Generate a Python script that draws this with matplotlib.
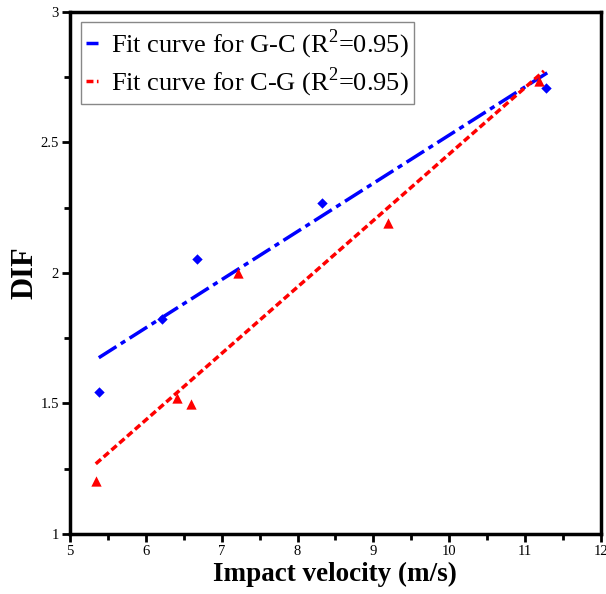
import numpy as np
import matplotlib
matplotlib.use("Agg")
import matplotlib.pyplot as plt
from matplotlib.ticker import MultipleLocator

plt.rcParams['font.family'] = ['Liberation Serif', 'DejaVu Serif']
plt.rcParams['mathtext.fontset'] = 'custom'
plt.rcParams['mathtext.rm'] = 'Liberation Serif'

gc_x = [5.38, 6.21, 6.67, 8.32, 11.28]
gc_y = [1.544, 1.824, 2.054, 2.268, 2.709]
cg_x = [5.34, 6.41, 6.59, 7.21, 9.19, 11.18]
cg_y = [1.203, 1.520, 1.498, 2.000, 2.190, 2.736]

labels = ["Fit curve for G-C (R$^{2}$=0.95)", "Fit curve for C-G (R$^{2}$=0.95)"]

fig = plt.figure(figsize=(6.06, 5.94), dpi=100)
ax = fig.add_axes([0.1155, 0.101, 0.876, 0.879])

# fits
p1 = np.polyfit(gc_x, gc_y, 1)
p2 = np.polyfit(cg_x, cg_y, 1)
xf1 = np.array([min(gc_x), max(gc_x) + 0.03])
xf2 = np.array([min(cg_x), max(cg_x) + 0.07])

ax.plot(xf1, np.polyval(p1, xf1), color='#0000ff', lw=2.5,
        linestyle=(0, (6, 1.5, 1.5, 1.5)), label=labels[0], zorder=2)
ax.plot(xf2, np.polyval(p2, xf2), color='#ff0000', lw=2.5,
        linestyle=(0, (2, 1)), label=labels[1], zorder=2)

ax.scatter(gc_x, gc_y, marker='D', s=28, color='#0000ff', zorder=3, linewidths=0)
ax.scatter(cg_x, cg_y, marker='^', s=55, color='#ff0000', zorder=3, linewidths=0)

ax.set_xlim(5, 12)
ax.set_ylim(1, 3)
ax.xaxis.set_major_locator(MultipleLocator(1))
ax.xaxis.set_minor_locator(MultipleLocator(0.5))
ax.yaxis.set_major_locator(MultipleLocator(0.5))
ax.yaxis.set_minor_locator(MultipleLocator(0.25))
ax.yaxis.set_major_formatter(matplotlib.ticker.FuncFormatter(lambda v, p: f"{v:g}"))

for s in ax.spines.values():
    s.set_linewidth(2.5)
ax.tick_params(which='major', direction='out', length=6, width=2, labelsize=10.5, pad=2)
ax.tick_params(which='minor', direction='out', length=4, width=2)

ax.set_xlabel("Impact velocity (m/s)", fontsize=19.5, fontweight='bold', labelpad=3)
ax.set_ylabel("DIF", fontsize=22, fontweight='bold', labelpad=1)

leg = ax.legend(loc='upper left', fontsize=19, handlelength=0.45, handletextpad=0.5,
                fancybox=False, framealpha=1, edgecolor='#888888',
                borderaxespad=0.4, borderpad=0.2, labelspacing=0.15)
leg.get_frame().set_linewidth(1)

fig.savefig("out.png", dpi=100)
